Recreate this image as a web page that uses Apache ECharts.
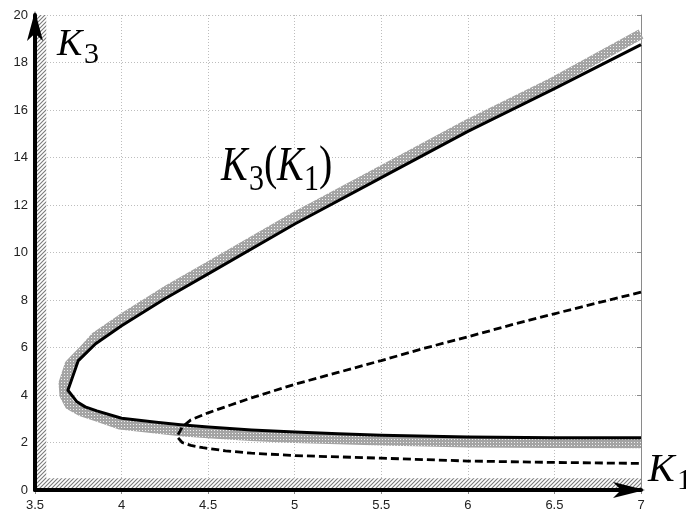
<!DOCTYPE html>
<html><head><meta charset="utf-8">
<script src="https://cdn.jsdelivr.net/npm/echarts@6/dist/echarts.min.js"></script>
<style>html,body{margin:0;padding:0;background:#fff}#c{width:686px;height:512px}</style>
</head><body><div id="c"></div>
<script>
// ---- data ----
// solid curve K3(K1): upper branch from K1=7 down to the vertex, then lower branch back to K1=7
const solidK1 = [7.0, 6.5, 6.0, 5.5, 5.0, 4.5, 4.25, 4.0, 3.85, 3.75, 3.69, 3.74, 3.79, 3.857, 4.0, 4.2, 4.34, 4.5, 4.75, 5.0, 5.25, 5.5, 6.0, 6.5, 7.0];
const solidK3 = [18.75, 16.9, 15.1, 13.15, 11.2, 9.1, 8.05, 6.92, 6.16, 5.45, 4.2, 3.73, 3.5, 3.33, 3.02, 2.85, 2.75, 2.65, 2.53, 2.44, 2.37, 2.31, 2.23, 2.2, 2.2];
// grey cross-hatched boundary band (outside of the solid curve)
const bandK1 = [7.0, 6.5, 6.0, 5.5, 5.0, 4.5, 4.25, 4.0, 3.85, 3.78, 3.70, 3.665, 3.67, 3.70, 3.77, 3.857, 3.99, 4.34, 4.5, 4.75, 5.0, 5.5, 6.0, 6.5, 7.0];
const bandK3 = [19.2, 17.2, 15.4, 13.45, 11.5, 9.4, 8.35, 7.2, 6.45, 5.88, 5.28, 4.5, 4.0, 3.58, 3.3, 3.09, 2.76, 2.47, 2.39, 2.27, 2.19, 2.08, 2.0, 1.98, 1.97];
// dashed curve
const dashK1 = [7.0, 6.75, 6.5, 6.25, 6.0, 5.75, 5.5, 5.25, 5.0, 4.75, 4.63, 4.5, 4.4, 4.35, 4.32, 4.35, 4.4, 4.47, 4.6, 4.75, 5.0, 5.5, 6.0, 6.5, 7.0];
const dashK3 = [8.33, 7.88, 7.42, 6.95, 6.45, 5.97, 5.45, 4.95, 4.45, 3.88, 3.58, 3.25, 2.95, 2.65, 2.25, 2.0, 1.88, 1.78, 1.65, 1.55, 1.45, 1.34, 1.22, 1.16, 1.12];
// axes
const xMin = 3.5, xMax = 7, xStep = 0.5;
const yMin = 0, yMax = 20, yStep = 2;
// hatched strips (data coordinates)
const hatchLeft = [[3.5, 0], [3.565, 20]];
const hatchBottom = [[3.5, 0], [7, 0.5]];

function pairs(a, b) { return a.map((v, i) => [v, b[i]]); }

function makeHatch() {
  const c = document.createElement('canvas'); c.width = 4; c.height = 4;
  const g = c.getContext('2d');
  g.fillStyle = '#ffffff'; g.fillRect(0, 0, 4, 4);
  g.strokeStyle = '#7a7a7a'; g.lineWidth = 1.1;
  g.beginPath();
  g.moveTo(-1, 5); g.lineTo(5, -1);
  g.moveTo(-1, 1); g.lineTo(1, -1);
  g.moveTo(3, 5); g.lineTo(5, 3);
  g.stroke();
  return c;
}
function makeCheck() {
  const c = document.createElement('canvas'); c.width = 3; c.height = 3;
  const g = c.getContext('2d');
  g.fillStyle = '#a4a4a4'; g.fillRect(0, 0, 3, 3);
  g.fillStyle = '#f0f0f0'; g.fillRect(1, 1, 1, 1);
  return c;
}
const hatchPattern = { image: makeHatch(), repeat: 'repeat' };
const checkPattern = { image: makeCheck(), repeat: 'repeat' };

const serif = '"Liberation Serif", "Times New Roman", serif';
function txt(x, y, s, font, sy) {
  return { type: 'text', x: x, y: y, scaleY: sy || 1, silent: true, z: 100,
    style: { text: s, font: font, fill: '#000', align: 'left', verticalAlign: 'middle' } };
}

const chart = echarts.init(document.getElementById('c'), null, { renderer: 'canvas' });
const labelStyle = { color: '#222', fontSize: 13, fontFamily: '"Liberation Sans", Arial, sans-serif' };
chart.setOption({
  animation: false,
  backgroundColor: '#fff',
  grid: { left: 35, right: 45, top: 15, bottom: 20, containLabel: false },
  xAxis: [
    { type: 'value', min: xMin, max: xMax, interval: xStep, position: 'bottom', z: 10,
      axisLine: { show: true, lineStyle: { color: '#000', width: 4 }, symbol: ['none', 'arrow'], symbolSize: [12, 32], symbolOffset: [0, 4] },
      axisTick: { show: false }, splitLine: { show: false },
      axisLabel: Object.assign({ margin: 9 }, labelStyle) },
    { type: 'value', min: xMin, max: xMax, interval: xStep, position: 'top', z: 0,
      axisLine: { show: true, lineStyle: { color: '#8a8a8a', width: 1 } },
      axisTick: { show: true, inside: true, length: 4, lineStyle: { color: '#8a8a8a' } },
      axisLabel: { show: false },
      splitLine: { show: true, lineStyle: { color: '#bdbdbd', width: 1, type: [1, 2] } } }
  ],
  yAxis: [
    { type: 'value', min: yMin, max: yMax, interval: yStep, position: 'left', z: 10,
      axisLine: { show: true, lineStyle: { color: '#000', width: 4 }, symbol: ['none', 'arrow'], symbolSize: [12, 30], symbolOffset: [0, 4] },
      axisTick: { show: false }, splitLine: { show: false },
      axisLabel: Object.assign({ margin: 7 }, labelStyle) },
    { type: 'value', min: yMin, max: yMax, interval: yStep, position: 'right', z: 0,
      axisLine: { show: true, lineStyle: { color: '#8a8a8a', width: 1 } },
      axisTick: { show: true, inside: true, length: 4, lineStyle: { color: '#8a8a8a' } },
      axisLabel: { show: false },
      splitLine: { show: true, lineStyle: { color: '#bdbdbd', width: 1, type: [1, 2] } } }
  ],
  series: [
    { type: 'line', data: [], z: 1, silent: true,
      markArea: { silent: true, label: { show: false },
        itemStyle: { color: hatchPattern, opacity: 1, borderWidth: 0 },
        data: [
          [{ coord: hatchLeft[0] }, { coord: hatchLeft[1] }],
          [{ coord: hatchBottom[0] }, { coord: hatchBottom[1] }]
        ] } },
    { type: 'line', data: pairs(bandK1, bandK3), symbol: 'none', z: 2, silent: true,
      lineStyle: { color: checkPattern, width: 10, join: 'round', cap: 'butt' } },
    { type: 'line', data: pairs(solidK1, solidK3), symbol: 'none', z: 3, silent: true,
      lineStyle: { color: '#000', width: 3, join: 'round' } },
    { type: 'line', data: pairs(dashK1, dashK3), symbol: 'none', z: 4, silent: true,
      lineStyle: { color: '#000', width: 2.8, type: [8, 4] } }
  ],
  graphic: [
    { type: 'rect', shape: { x: 223, y: 148, width: 106, height: 44 }, style: { fill: '#fff' }, z: 1, silent: true },
    txt(57, 45, 'K', 'italic 38px ' + serif),
    txt(84, 55, '3', '30px ' + serif),
    txt(221, 167, 'K', 'italic 40px ' + serif, 1.22),
    txt(249, 180, '3', '30px ' + serif, 1.22),
    txt(264, 166, '(', '40px ' + serif, 1.22),
    txt(277, 167, 'K', 'italic 40px ' + serif, 1.22),
    txt(304, 180, '1', '30px ' + serif, 1.22),
    txt(319, 166, ')', '40px ' + serif, 1.22),
    txt(648, 470, 'K', 'italic 40px ' + serif),
    txt(677, 481, '1', '30px ' + serif)
  ]
});
</script></body></html>
